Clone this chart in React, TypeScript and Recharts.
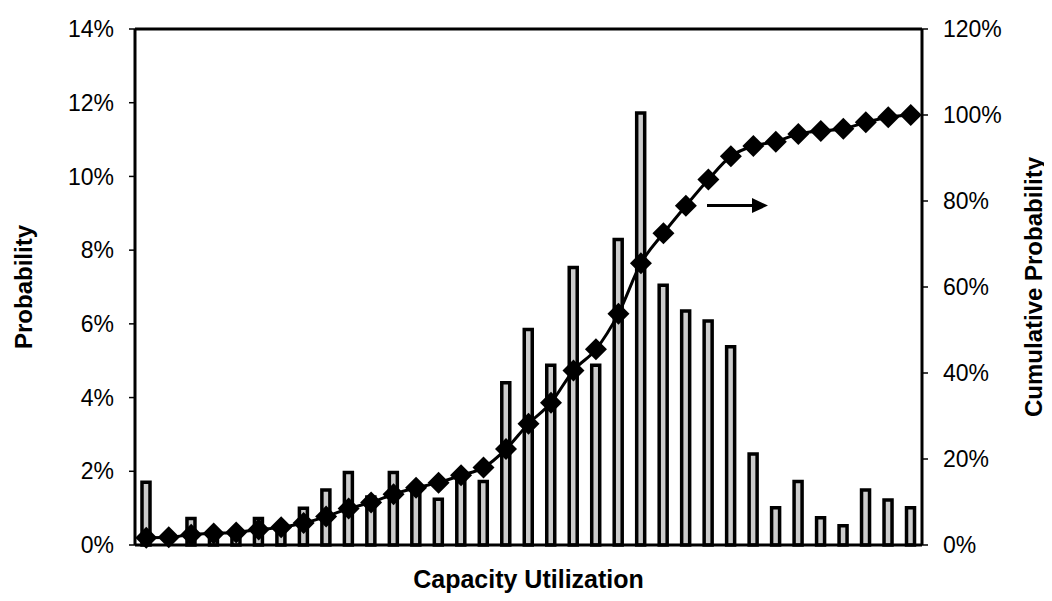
import React from "react";
import {
  ComposedChart,
  Bar,
  Line,
  XAxis,
  YAxis,
  Label,
} from "recharts";

// capacity utilization bins (no tick labels shown in the chart)
const bins = [
  "1", "2", "3", "4", "5", "6", "7", "8", "9", "10",
  "11", "12", "13", "14", "15", "16", "17", "18", "19", "20",
  "21", "22", "23", "24", "25", "26", "27", "28", "29", "30",
  "31", "32", "33", "34", "35",
];

// probability per bin, in %
const probability = [
  1.7, 0, 0.72, 0.3, 0.2, 0.72, 0.45, 1.0, 1.49, 1.97,
  1.3, 1.97, 1.45, 1.24, 1.72, 1.72, 4.4, 5.85, 4.88, 7.53,
  4.88, 8.29, 11.72, 7.05, 6.35, 6.08, 5.38, 2.47, 1.01, 1.72,
  0.74, 0.52, 1.49, 1.22, 1.01,
];

// cumulative probability, in %
const cumulative = [
  1.7, 1.8, 2.4, 2.7, 2.9, 3.6, 4.1, 5.1, 6.6, 8.5,
  9.9, 11.8, 13.3, 14.5, 16.2, 18.0, 22.3, 28.2, 33.1, 40.6,
  45.5, 53.8, 65.5, 72.5, 78.9, 85.0, 90.4, 92.8, 93.8, 95.6,
  96.3, 96.8, 98.3, 99.5, 100,
];

const leftTicks = [0, 2, 4, 6, 8, 10, 12, 14];
const rightTicks = [0, 20, 40, 60, 80, 100, 120];

const data = bins.map((bin, i) => ({
  bin,
  prob: probability[i],
  cum: cumulative[i],
}));

const FONT = "'Liberation Sans', Arial, sans-serif";

const Diamond = (props: any) => {
  const { cx, cy } = props;
  if (cx == null || cy == null) return null;
  const r = 11;
  return (
    <polygon
      points={`${cx},${cy - r} ${cx + r},${cy} ${cx},${cy + r} ${cx - r},${cy}`}
      fill="#000"
    />
  );
};

const SideTitle = ({ px, text }: any) => {
  const cy = 21 + 258;
  return (
    <text
      transform={`translate(${px},${cy}) rotate(-90)`}
      textAnchor="middle"
      dominantBaseline="central"
      fontFamily={FONT}
      fontWeight="bold"
      fontSize={24}
      fill="#000"
    >
      {text}
    </text>
  );
};

export default function App() {
  const tickStyle = { fontFamily: FONT, fontSize: 23, fill: "#000" };
  return (
    <div style={{ position: "relative", width: 1044, height: 585 }}>
      <ComposedChart
        width={1044}
        height={585}
        data={data}
        margin={{ top: 20, right: 0, bottom: 0, left: 0 }}
      >
        <XAxis
          dataKey="bin"
          height={48}
          tick={false}
          tickLine={false}
          axisLine={{ stroke: "#000", strokeWidth: 3 }}
        >
          <Label
            value="Capacity Utilization"
            position="insideBottom"
            offset={5}
            style={{ fontFamily: FONT, fontWeight: "bold", fontSize: 25, fill: "#000" }}
          />
        </XAxis>
        <XAxis
          xAxisId="top"
          dataKey="bin"
          orientation="top"
          height={1}
          tick={false}
          tickLine={false}
          axisLine={{ stroke: "#000", strokeWidth: 3 }}
        />
        <YAxis
          yAxisId="left"
          width={127}
          domain={[0, 14]}
          ticks={leftTicks}
          tickFormatter={(v) => `${v}%`}
          tick={tickStyle}
          tickSize={6}
          tickMargin={15}
          tickLine={{ stroke: "#000", strokeWidth: 1.5 }}
          axisLine={{ stroke: "#000", strokeWidth: 3 }}
        >
          <Label content={<SideTitle px={15} text="Probability" />} />
        </YAxis>
        <YAxis
          yAxisId="right"
          orientation="right"
          width={130}
          domain={[0, 120]}
          ticks={rightTicks}
          tickFormatter={(v) => `${v}%`}
          tick={tickStyle}
          tickSize={6}
          tickMargin={15}
          tickLine={{ stroke: "#000", strokeWidth: 1.5 }}
          axisLine={{ stroke: "#000", strokeWidth: 3 }}
        >
          <Label content={<SideTitle px={1025} text="Cumulative Probability" />} />
        </YAxis>
        <Bar
          yAxisId="left"
          dataKey="prob"
          barSize={8}
          fill="#cccccc"
          stroke="#000"
          strokeWidth={3.5}
          isAnimationActive={false}
        />
        <Line
          yAxisId="right"
          dataKey="cum"
          type="monotone"
          stroke="#000"
          strokeWidth={3}
          dot={(p: any) => <Diamond key={`d-${p.index}`} {...p} />}
          activeDot={false}
          isAnimationActive={false}
        />
      </ComposedChart>
      {/* arrow pointing to the cumulative axis */}
      <svg
        width={1044}
        height={585}
        style={{ position: "absolute", left: 0, top: 0, pointerEvents: "none" }}
      >
        <line x1={699} y1={197.5} x2={746} y2={197.5} stroke="#000" strokeWidth={3} />
        <polygon points="744,190 760,197.5 744,205" fill="#000" />
      </svg>
    </div>
  );
}
